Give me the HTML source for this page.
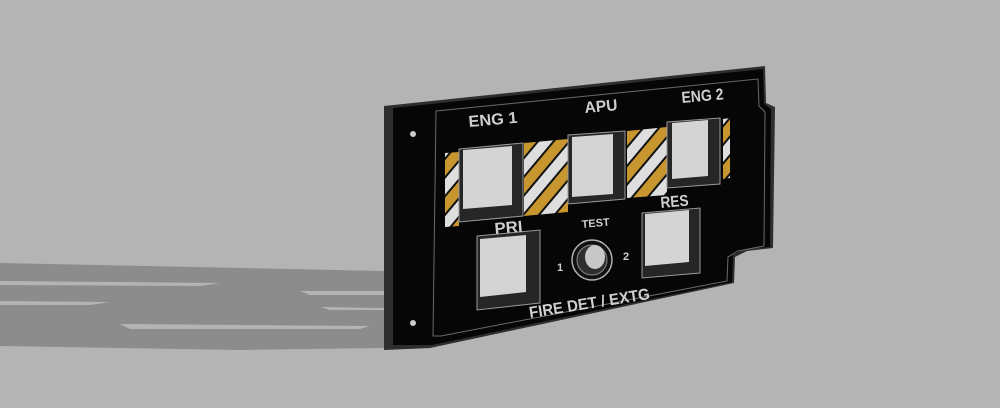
<!DOCTYPE html>
<html><head><style>html,body{margin:0;padding:0;background:#b4b4b4;}svg{display:block}</style></head>
<body>
<svg width="1000" height="408" viewBox="0 0 1000 408" xmlns="http://www.w3.org/2000/svg" font-family="Liberation Sans, sans-serif">
<defs>
<pattern id="st" patternUnits="userSpaceOnUse" width="24" height="24" patternTransform="rotate(40)">
<rect width="24" height="24" fill="#c8962e"/>
<rect x="0" y="0" width="10" height="24" fill="#dedede"/>
<rect x="10" y="0" width="2" height="24" fill="#111"/>
<rect x="22" y="0" width="2" height="24" fill="#111"/>
</pattern>
</defs>
<rect width="1000" height="408" fill="#b4b4b4"/>
<!-- shadow -->
<polygon points="0,263 385,271 385,348 240,350 0,346" fill="#8c8c8c"/>
<g fill="#b4b4b4">
<polygon points="0,281 220,283 200,286 0,285"/>
<polygon points="0,301 110,302 90,305 0,305"/>
<polygon points="300,291 385,291 385,295 310,295"/>
<polygon points="320,307 385,308 385,310 330,310"/>
<polygon points="120,324 370,326 360,329 130,329"/>
</g>
<!-- panel body -->
<polygon points="384,106 765,66 766,103 775,107 773,248 747,251 735,257 734,283 430,348 384,350" fill="#2e2e2e"/>
<polygon points="393,108 763,69 764,104 771,109 770,247 745,249 733,255 732,282 432,345 393,345" fill="#060606"/>
<!-- inner bezel line -->
<polygon points="436,111 758,79 759,106 765,112 764,246 738,251 728,257 727,281 441,336 433,336" fill="none" stroke="#6a6a6a" stroke-width="1"/>
<!-- holes -->
<circle cx="413" cy="134" r="3" fill="#ccc"/>
<circle cx="413" cy="323" r="3" fill="#ccc"/>
<!-- stripes -->
<polygon points="445,153 459,152 459,226 445,227" fill="url(#st)"/>
<polygon points="524,143 568,139 568,212 524,216" fill="url(#st)"/>
<polygon points="627,131 667,127 667,195 627,198" fill="url(#st)"/>
<polygon points="723,119 730,118 730,178 723,179" fill="url(#st)"/>
<!-- windows: frames -->
<g stroke="#9a9a9a" stroke-width="1" fill="#262626">
<polygon points="459,149 523,143 523,216 459,222"/>
<polygon points="568,135 625,131 625,199 568,204"/>
<polygon points="667,122 720,118 720,184 667,188"/>
<polygon points="477,236 540,230 540,303 477,310"/>
<polygon points="642,213 700,208 700,273 642,278"/>
</g>
<!-- windows: light -->
<g fill="#d4d4d4">
<polygon points="463,150 512,146 512,205 463,209"/>
<polygon points="572,137 613,134 613,194 572,197"/>
<polygon points="672,123 708,120 708,176 672,179"/>
<polygon points="480,239 526,235 526,292 480,297"/>
<polygon points="645,214 689,210 689,262 645,266"/>
</g>
<!-- test button -->
<circle cx="592" cy="260" r="20" fill="#111" stroke="#b0b0b0" stroke-width="1.5"/>
<circle cx="592" cy="260" r="15" fill="#2e2e2e" stroke="#888" stroke-width="1"/>
<ellipse cx="595" cy="257" rx="10" ry="12" fill="#c8c8c8"/>
<!-- labels -->
<g fill="#cfcfcf" font-weight="bold">
<text x="469" y="127" font-size="16" textLength="49" lengthAdjust="spacingAndGlyphs" transform="rotate(-5 469 127)">ENG 1</text>
<text x="585" y="113" font-size="16" textLength="33" lengthAdjust="spacingAndGlyphs" transform="rotate(-5 585 113)">APU</text>
<text x="682" y="103" font-size="16" textLength="42" lengthAdjust="spacingAndGlyphs" transform="rotate(-5 682 103)">ENG 2</text>
<text x="495" y="234" font-size="16" textLength="28" lengthAdjust="spacingAndGlyphs" transform="rotate(-5 495 234)">PRI</text>
<text x="661" y="208" font-size="16" textLength="28" lengthAdjust="spacingAndGlyphs" transform="rotate(-5 661 208)">RES</text>
<text x="582" y="228" font-size="11" textLength="28" lengthAdjust="spacingAndGlyphs" transform="rotate(-5 582 228)">TEST</text>
<text x="557" y="271" font-size="11">1</text>
<text x="623" y="260" font-size="11">2</text>
<text x="530" y="318" font-size="16" textLength="122" lengthAdjust="spacingAndGlyphs" transform="rotate(-9 530 318)">FIRE DET / EXTG</text>
</g>
</svg>
</body></html>
